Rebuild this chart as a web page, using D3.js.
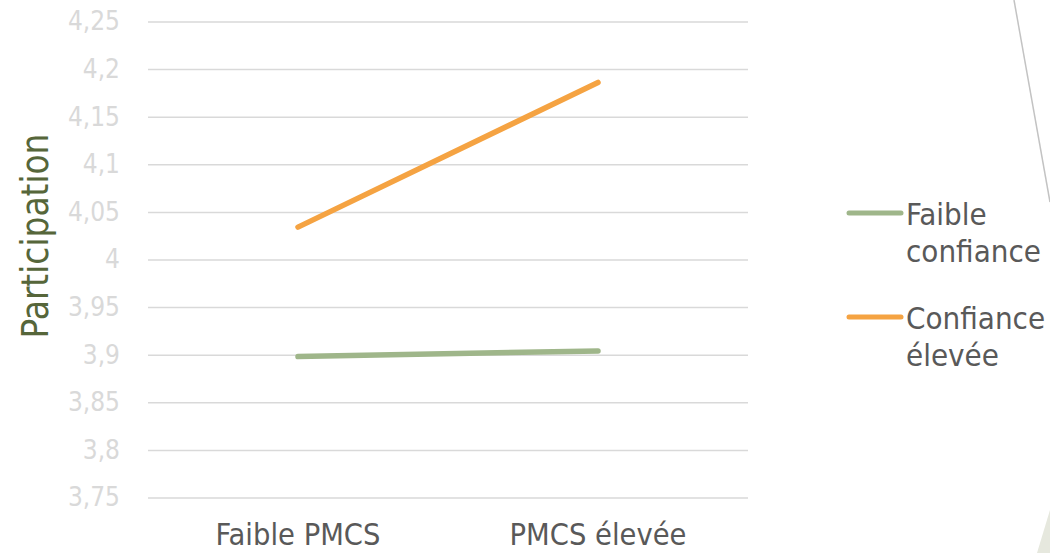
<!DOCTYPE html>
<html><head><meta charset="utf-8">
<script src="https://cdn.jsdelivr.net/npm/d3@7"></script>
<style>
html,body{margin:0;padding:0;background:#fff;}
svg{display:block;}
text{font-family:"DejaVu Sans Condensed","DejaVu Sans",sans-serif;}
</style></head><body>
<svg id="c" width="1050" height="553"></svg>
<script>
const categories = ["Faible PMCS", "PMCS élevée"];
const seriesNames = ["Faible confiance", "Confiance élevée"];
const faibleConfiance = [3.898, 3.904];
const confianceElevee = [4.034, 4.186];
const yTicks = [3.75, 3.8, 3.85, 3.9, 3.95, 4, 4.05, 4.1, 4.15, 4.2, 4.25];
const legendLines = [["Faible", "confiance"], ["Confiance", "élevée"]];
const colors = ["#9fb68a", "#f5a342"];

const svg = d3.select("#c");
const pLeft = 148, pRight = 748, pTop = 21.5, pBottom = 497.5;

const x = d3.scaleBand().domain(categories).range([pLeft, pRight]);
const y = d3.scaleLinear().domain([3.75, 4.25]).range([pBottom, pTop]);

// decorative slide elements
svg.append("line").attr("x1", 1014).attr("y1", 0).attr("x2", 1050).attr("y2", 202)
  .attr("stroke", "#c3c3c3").attr("stroke-width", 1.5);
svg.append("path").attr("d", "M1050,510 L1037,553 L1050,553 Z").attr("fill", "#e6e8de");

// gridlines
const yAxis = d3.axisLeft(y).tickValues(yTicks).tickSize(-(pRight - pLeft)).tickPadding(28)
  .tickFormat(d => String(d).replace(".", ","));
const gy = svg.append("g").attr("transform", `translate(${pLeft},0)`).call(yAxis);
gy.select(".domain").remove();
gy.selectAll(".tick line").attr("stroke", "#d9d9d9").attr("stroke-width", 1.5);
gy.selectAll(".tick text").attr("fill", "#d9d9d9").attr("font-size", 26)
  .style("font-family", '"DejaVu Sans Condensed","DejaVu Sans",sans-serif');

// x axis labels
const xAxis = d3.axisBottom(x).tickSize(0).tickPadding(26);
const gx = svg.append("g").attr("transform", `translate(0,${pBottom})`).call(xAxis);
gx.select(".domain").remove();
gx.selectAll(".tick text").attr("fill", "#595959").attr("font-size", 30.5)
  .style("font-family", '"DejaVu Sans Condensed","DejaVu Sans",sans-serif');

// y title
svg.append("text").attr("transform", "translate(48,236) rotate(-90)")
  .attr("text-anchor", "middle").attr("fill", "#56663a").attr("font-size", 36.5)
  .text("Participation");

// lines
const line = d3.line().x((d, i) => x(categories[i]) + x.bandwidth() / 2).y(d => y(d));
[faibleConfiance, confianceElevee].forEach((s, i) => {
  svg.append("path").datum(s).attr("d", line).attr("fill", "none")
    .attr("stroke", colors[i]).attr("stroke-width", 5.5).attr("stroke-linecap", "round");
});

// legend
const legY = [213, 317];
seriesNames.forEach((n, i) => {
  const g = svg.append("g");
  g.append("line").attr("x1", 849).attr("x2", 901).attr("y1", legY[i]).attr("y2", legY[i])
    .attr("stroke", colors[i]).attr("stroke-width", 5).attr("stroke-linecap", "round");
  legendLines[i].forEach((t, j) => {
    g.append("text").attr("x", 906).attr("y", legY[i] + 12 + j * 37)
      .attr("fill", "#595959").attr("font-size", 31).text(t);
  });
});
</script></body></html>
